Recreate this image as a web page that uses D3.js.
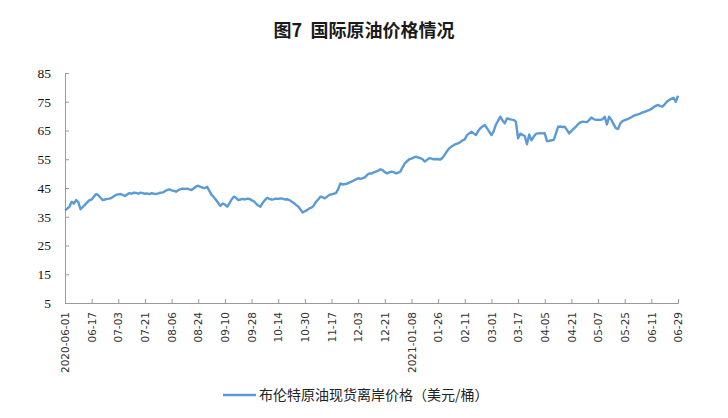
<!DOCTYPE html>
<html><head><meta charset="utf-8">
<script src="https://cdn.jsdelivr.net/npm/d3@7"></script>
<style>body{margin:0;background:#fff}svg{display:block}</style>
</head><body>
<svg id="c" width="728" height="418"></svg>
<script>
const title = "图7  国际原油价格情况";
const seriesName = "布伦特原油现货离岸价格（美元/桶）";
const yTicks = [5,15,25,35,45,55,65,75,85];
const tickLabels = ["2020-06-01","06-17","07-03","07-21","08-06","08-24","09-10","09-28","10-14","10-30","11-17","12-03","12-21","2021-01-08","01-26","02-11","03-01","03-17","04-05","04-21","05-07","05-25","06-11","06-29"];
const tickEvery = 12;
const brent = [
37.3,37.8,38.5,40.2,39.6,40.8,40.1,37.6,38.4,39.2,40.0,40.8,
41.0,42.0,42.9,42.5,41.6,40.8,41.0,41.2,41.3,41.6,42.1,42.6,
42.8,42.9,42.6,42.2,42.8,43.2,43.0,43.4,43.3,43.0,43.4,43.2,
43.0,43.1,42.9,43.2,43.0,42.9,43.1,43.4,43.4,43.9,44.3,44.5,
44.2,44.0,43.7,44.2,44.6,44.8,44.7,44.8,44.5,44.3,44.9,45.5,
45.8,45.4,45.1,45.0,45.4,44.0,42.6,41.8,40.8,39.8,38.8,39.6,
39.2,38.5,39.6,41.0,42.0,41.6,40.8,41.0,41.2,41.0,41.3,41.2,
40.8,40.4,39.6,38.9,38.5,39.8,40.8,41.6,41.2,41.0,41.1,41.3,
41.2,41.4,41.3,41.0,41.1,40.8,40.3,39.8,39.1,38.6,37.5,36.5,
36.9,37.3,37.9,38.2,38.9,40.2,41.0,42.0,41.8,41.4,42.0,42.6,
42.8,43.0,43.2,44.6,46.6,46.2,46.4,46.5,46.9,47.2,47.6,48.0,
48.4,48.2,48.4,48.7,49.5,50.1,50.0,50.4,50.7,51.0,51.5,51.2,
50.5,50.1,50.4,50.7,50.5,50.1,50.3,50.7,52.2,53.6,54.3,55.0,
55.2,55.6,55.9,55.6,55.4,55.0,54.2,54.8,55.4,55.2,55.0,55.1,
55.0,54.9,55.5,56.6,57.8,58.8,59.4,59.9,60.3,60.5,61.0,61.6,
61.9,63.4,64.0,64.6,64.0,63.4,64.8,65.8,66.4,66.9,65.8,64.6,
63.4,64.8,67.0,68.4,69.8,68.5,67.5,69.2,69.0,68.8,68.7,68.1,
62.3,63.9,63.5,63.1,60.2,63.6,61.6,62.8,63.8,64.0,64.1,64.0,
64.1,61.3,61.4,61.6,61.7,63.8,66.3,66.4,66.2,66.3,65.2,64.0,
64.8,65.6,66.3,67.2,67.8,68.1,68.0,67.9,68.6,69.5,69.0,68.7,
68.8,68.7,68.9,69.8,67.1,69.8,68.7,67.2,65.8,65.5,67.4,68.3,
68.6,68.9,69.2,69.6,70.1,70.4,70.6,70.9,71.3,71.5,71.8,72.1,
72.5,73.1,73.6,73.9,73.5,73.3,74.1,75.0,75.6,76.0,76.4,75.0,
77.1
];

const svg = d3.select("#c");
const mL = 65, mR = 678, mT = 73, mB = 303;
const x = d3.scaleLinear().domain([0, brent.length - 1]).range([mL, mR]);
const y = d3.scaleLinear().domain([5, 85]).range([mB, mT]);

svg.append("text").attr("x", 364).attr("y", 37).attr("text-anchor", "middle")
  .attr("font-family", "Noto Sans CJK SC").attr("font-weight", "bold")
  .attr("font-size", 18).attr("fill", "#1a1a1a").style("white-space", "pre").text(title);

// Y axis
const yAxis = svg.append("g").attr("transform", `translate(${mL},0)`)
  .call(d3.axisLeft(y).tickValues(yTicks).tickSize(-4).tickPadding(14).tickFormat(d3.format("d")));
yAxis.select(".domain").attr("stroke", "#9a9a9a");
yAxis.selectAll(".tick line").attr("stroke", "#9a9a9a");
yAxis.selectAll("text").attr("font-family", "Liberation Serif").attr("font-size", 13.5).attr("fill", "#111");

// X axis
const tickIdx = tickLabels.map((d, i) => i * tickEvery);
const xAxis = svg.append("g").attr("transform", `translate(0,${mB})`)
  .call(d3.axisBottom(x).tickValues(tickIdx).tickSize(-4).tickFormat((d, i) => tickLabels[i]));
xAxis.select(".domain").attr("stroke", "#9a9a9a");
xAxis.selectAll(".tick line").attr("stroke", "#9a9a9a");
xAxis.selectAll("text")
  .attr("font-family", "DejaVu Sans").attr("font-size", 10.5).attr("fill", "#333")
  .attr("text-anchor", "end").attr("dy", "0.35em")
  .attr("transform", "translate(0,9) rotate(-90)").attr("y", 0).attr("x", 0);

// Line
const line = d3.line().x((d, i) => x(i)).y(d => y(d));
svg.append("path").datum(brent).attr("d", line).attr("fill", "none")
  .attr("stroke", "#5b9bd5").attr("stroke-width", 2.4).attr("stroke-linejoin", "round");

// Legend
svg.append("line").attr("x1", 223).attr("x2", 256).attr("y1", 395).attr("y2", 395)
  .attr("stroke", "#5b9bd5").attr("stroke-width", 2.4);
svg.append("text").attr("x", 259).attr("y", 400)
  .attr("font-family", "Noto Sans CJK SC").attr("font-size", 14).attr("fill", "#222").text(seriesName);
</script>
</body></html>
